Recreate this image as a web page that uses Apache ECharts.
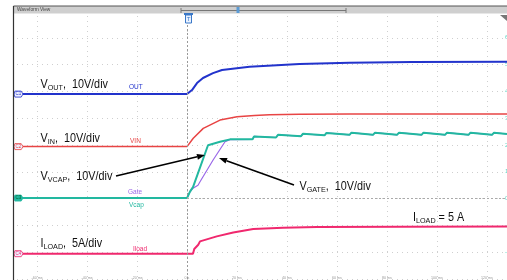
<!DOCTYPE html>
<html>
<head>
<meta charset="utf-8">
<script src="https://cdn.jsdelivr.net/npm/echarts@6/dist/echarts.min.js"></script>
<style>
html, body { margin: 0; padding: 0; background: #fff; }
#chart { width: 507px; height: 280px; }
</style>
</head>
<body>
<div id="chart"></div>
<script>
// scope channels: volts (or amps) per div and ground position in divs from the bottom
var chScale = [10, 10, 10, 5];
var chOffset = [6.9, 4.94, 3.02, 0.944];

// C1 VOUT
var voutT = [-69, 0, 2, 4, 6.4, 10.4, 14, 25, 45, 65, 90, 128];
var voutV = [0, 0, 1.5, 4.1, 6.0, 7.8, 9.0, 10.2, 11.2, 11.7, 11.95, 12.05];
// C2 VIN
var vinT = [-69, 0, 2.5, 6.5, 13.2, 20, 27, 33, 45, 65, 128];
var vinV = [0, 0, 3.1, 6.8, 9.9, 11.1, 11.6, 11.9, 12.1, 12.2, 12.2];
// C3 Vcap
var vcapT = [-69, 0, 1.2, 2.4, 8.4, 13.2, 17.2, 26.2, 26.8, 35.6, 36.4, 45.6, 46.4, 55.0, 55.8,
             65.0, 65.8, 74.4, 75.2, 84.0, 84.8, 93.8, 94.6, 103.2, 104.0, 112.6, 113.4, 122.0, 122.8, 128];
var vcapV = [0, 0, 2.4, 4.1, 19.7, 21.0, 21.9, 21.9, 23.0, 22.6, 23.6, 23.1, 24.0, 23.4, 24.3,
             23.6, 24.4, 23.6, 24.4, 23.6, 24.4, 23.6, 24.4, 23.6, 24.4, 23.6, 24.4, 23.6, 24.4, 23.9];
// Gate (same channel scale as Vcap), merges into Vcap after ~17 ms
var gateT = [-69, 0, 1.2, 2.4, 4.4, 5.2, 10.5, 15.2, 17.2];
var gateV = [0, 0, 2.4, 3.7, 4.8, 6.1, 14.3, 21.0, 21.8];
// C4 Iload
var iloadT = [-69, 0, 2.4, 2.9, 4.5, 5.2, 11.9, 18.5, 26.5, 38.4, 52, 85, 128];
var iloadV = [0, 0, 0, 0.88, 1.68, 2.3, 3.23, 3.97, 4.6, 4.85, 4.97, 5.03, 5.08];

var chColor = ['#2233cc', '#e84444', '#22b8a0', '#f0286e'];
var gateColor = '#9a68e8';
var badgeText = ['C1', 'C2', 'C3', 'C4'];

function zip(t, v) {
    return t.map(function (x, i) { return [x, v[i]]; });
}
// vcap tail is followed by the gate trace after they merge
var gateData = zip(gateT, gateV).concat(zip(vcapT, vcapV).filter(function (p) { return p[0] > 17.2; }));

function chAxis(k) {
    return { type: 'value', show: false, min: -chOffset[k] * chScale[k], max: (10 - chOffset[k]) * chScale[k] };
}

function badge(k) {
    var filled = k === 2;
    return {
        silent: true,
        symbol: 'path://M1,0 L8,0 L10,3 L8,6 L1,6 L0,3 Z',
        symbolSize: [9, 6],
        itemStyle: { color: filled ? chColor[k] : '#eef0ff', borderColor: chColor[k], borderWidth: 0.8 },
        label: { show: true, position: 'inside', formatter: badgeText[k], fontSize: 4.5,
                 color: filled ? '#063' : chColor[k], fontFamily: 'Liberation Sans' },
        data: [{ coord: [-67.4, 0] }]
    };
}

function line(name, data, yIdx, color, width, extra) {
    var s = {
        name: name, type: 'line', data: data, yAxisIndex: yIdx,
        showSymbol: false, symbol: 'none', animation: false,
        lineStyle: { color: color, width: width }, itemStyle: { color: color }
    };
    for (var k in extra) s[k] = extra[k];
    return s;
}

var txtFont = 'Liberation Sans, Arial, sans-serif';
function scopeLabel(x, y, main, sub, rest) {
    return {
        type: 'text', x: x, y: y, scaleX: 0.9, z: 100,
        style: {
            text: '{m|' + main + '}{s|' + sub + '}{m|' + rest + '}',
            verticalAlign: 'middle',
            rich: {
                m: { fontSize: 12, fontFamily: txtFont, fill: '#111', lineHeight: 14 },
                s: { fontSize: 8, fontFamily: txtFont, fill: '#111', lineHeight: 9, verticalAlign: 'bottom' }
            }
        }
    };
}
function tag(x, y, text, color) {
    return { type: 'text', x: x, y: y, z: 100,
             style: { text: text, fill: color, fontSize: 6.5, fontFamily: txtFont, verticalAlign: 'middle' } };
}
function arrow(x1, y1, x2, y2) {
    var a = Math.atan2(y2 - y1, x2 - x1), len = 8, w = 3;
    var bx = x2 - len * Math.cos(a), by = y2 - len * Math.sin(a);
    var nx = -Math.sin(a) * w, ny = Math.cos(a) * w;
    return [
        { type: 'line', z: 100, shape: { x1: x1, y1: y1, x2: bx, y2: by }, style: { stroke: '#000', lineWidth: 1.6 } },
        { type: 'polygon', z: 100, shape: { points: [[x2, y2], [bx + nx, by + ny], [bx - nx, by - ny]] }, style: { fill: '#000' } }
    ];
}

var myChart = echarts.init(document.getElementById('chart'));
var option = {
    backgroundColor: '#fff',
    animation: false,
    grid: { left: -13, right: 0, top: 11, bottom: 1, containLabel: false, outerBoundsMode: 'none' },
    xAxis: {
        type: 'value', min: -80, max: 128, interval: 20,
        axisLine: { show: false }, axisTick: { show: false },
        axisLabel: {
            inside: true, margin: -1, fontSize: 3.6, color: '#999', showMaxLabel: false,
            formatter: function (v) { return v === 0 ? '0 s' : v + ' ms'; }
        },
        splitLine: { show: true, lineStyle: { color: '#cfcfcf', type: [1, 4], width: 1 } }
    },
    yAxis: [
        {
            type: 'value', position: 'right', min: 0, max: 10, interval: 1,
            axisLine: { show: false }, axisTick: { show: false },
            axisLabel: {
                margin: -2, fontSize: 6, color: '#5fd6c6', showMinLabel: false, showMaxLabel: false,
                formatter: function (d) { return Math.round((d - chOffset[2]) * chScale[2]) + ' V'; }
            },
            splitLine: { show: true, lineStyle: { color: '#cfcfcf', type: [1, 4], width: 1 } }
        },
        chAxis(0), chAxis(1), chAxis(2), chAxis(3)
    ],
    series: [
        line('OUT', zip(voutT, voutV), 1, chColor[0], 2, {
            markPoint: badge(0),
            markLine: { silent: true, symbol: 'none', label: { show: false },
                        lineStyle: { color: '#999', type: [2, 2], width: 1 }, data: [{ xAxis: 0 }] }
        }),
        line('VIN', zip(vinT, vinV), 2, chColor[1], 1.5, { markPoint: badge(1) }),
        line('Gate', gateData, 3, gateColor, 1.2, {}),
        line('Vcap', zip(vcapT, vcapV), 3, chColor[2], 2, {
            markPoint: badge(2),
            markLine: { silent: true, symbol: 'none', label: { show: false },
                        lineStyle: { color: '#aaa', type: [2, 2], width: 1 },
                        data: [[{ coord: [0, 0] }, { coord: [128, 0] }]] }
        }),
        line('Iload', zip(iloadT, iloadV), 4, chColor[3], 2, { markPoint: badge(3) })
    ],
    graphic: [
        // white margin left of the plot frame
        { type: 'rect', z: 50, shape: { x: 0, y: 0, width: 13.5, height: 280 }, style: { fill: '#fff' } },
        // header bar
        { type: 'rect', z: 60, shape: { x: 14, y: 6, width: 493, height: 7.5 }, style: { fill: '#cfcfcf' } },
        { type: 'line', z: 61, shape: { x1: 13.5, y1: 6, x2: 507, y2: 6 }, style: { stroke: '#555', lineWidth: 1 } },
        { type: 'line', z: 61, shape: { x1: 13.5, y1: 6, x2: 13.5, y2: 280 }, style: { stroke: '#333', lineWidth: 1.2 } },
        { type: 'text', z: 62, x: 17, y: 10, style: { text: 'Waveform View', fontSize: 4.8, fill: '#444', fontFamily: txtFont, verticalAlign: 'middle' } },
        { type: 'line', z: 62, shape: { x1: 181, y1: 10.5, x2: 346, y2: 10.5 }, style: { stroke: '#777', lineWidth: 1 } },
        { type: 'line', z: 62, shape: { x1: 181, y1: 8, x2: 181, y2: 13 }, style: { stroke: '#777', lineWidth: 1 } },
        { type: 'line', z: 62, shape: { x1: 346, y1: 8, x2: 346, y2: 13 }, style: { stroke: '#777', lineWidth: 1 } },
        { type: 'rect', z: 63, shape: { x: 236.5, y: 7, width: 3, height: 6 }, style: { fill: '#5b9bd5' } },
        { type: 'polygon', z: 62, shape: { points: [[500, 15], [507, 15], [507, 21]] }, style: { fill: '#777' } },
        // trigger marker
        { type: 'rect', z: 63, shape: { x: 184, y: 13, width: 9, height: 2 }, style: { fill: '#3a78c8' } },
        { type: 'rect', z: 63, shape: { x: 185.5, y: 15, width: 6, height: 8 }, style: { fill: '#eaf2ff', stroke: '#3a78c8', lineWidth: 1 } },
        { type: 'text', z: 64, x: 188.5, y: 19.2, style: { text: 'T', fontSize: 6, fill: '#3a78c8', fontFamily: txtFont, align: 'center', verticalAlign: 'middle' } },
        // channel annotations
        scopeLabel(40.5, 85, 'V', 'OUT', ',  10V/div'),
        scopeLabel(40.5, 139, 'V', 'IN', ',  10V/div'),
        scopeLabel(40.5, 176.5, 'V', 'VCAP', ',  10V/div'),
        scopeLabel(40.5, 244, 'I', 'LOAD', ',  5A/div'),
        scopeLabel(299.5, 186.7, 'V', 'GATE', ',  10V/div'),
        scopeLabel(413, 218, 'I', 'LOAD', ' = 5 A'),
        tag(129, 87, 'OUT', chColor[0]),
        tag(130, 141, 'VIN', chColor[1]),
        tag(128, 192, 'Gate', gateColor),
        tag(129, 205, 'Vcap', chColor[2]),
        tag(133, 249, 'Iload', chColor[3])
    ].concat(arrow(116, 176, 205, 155), arrow(294, 185, 219, 158))
};
myChart.setOption(option);
</script>
</body>
</html>
